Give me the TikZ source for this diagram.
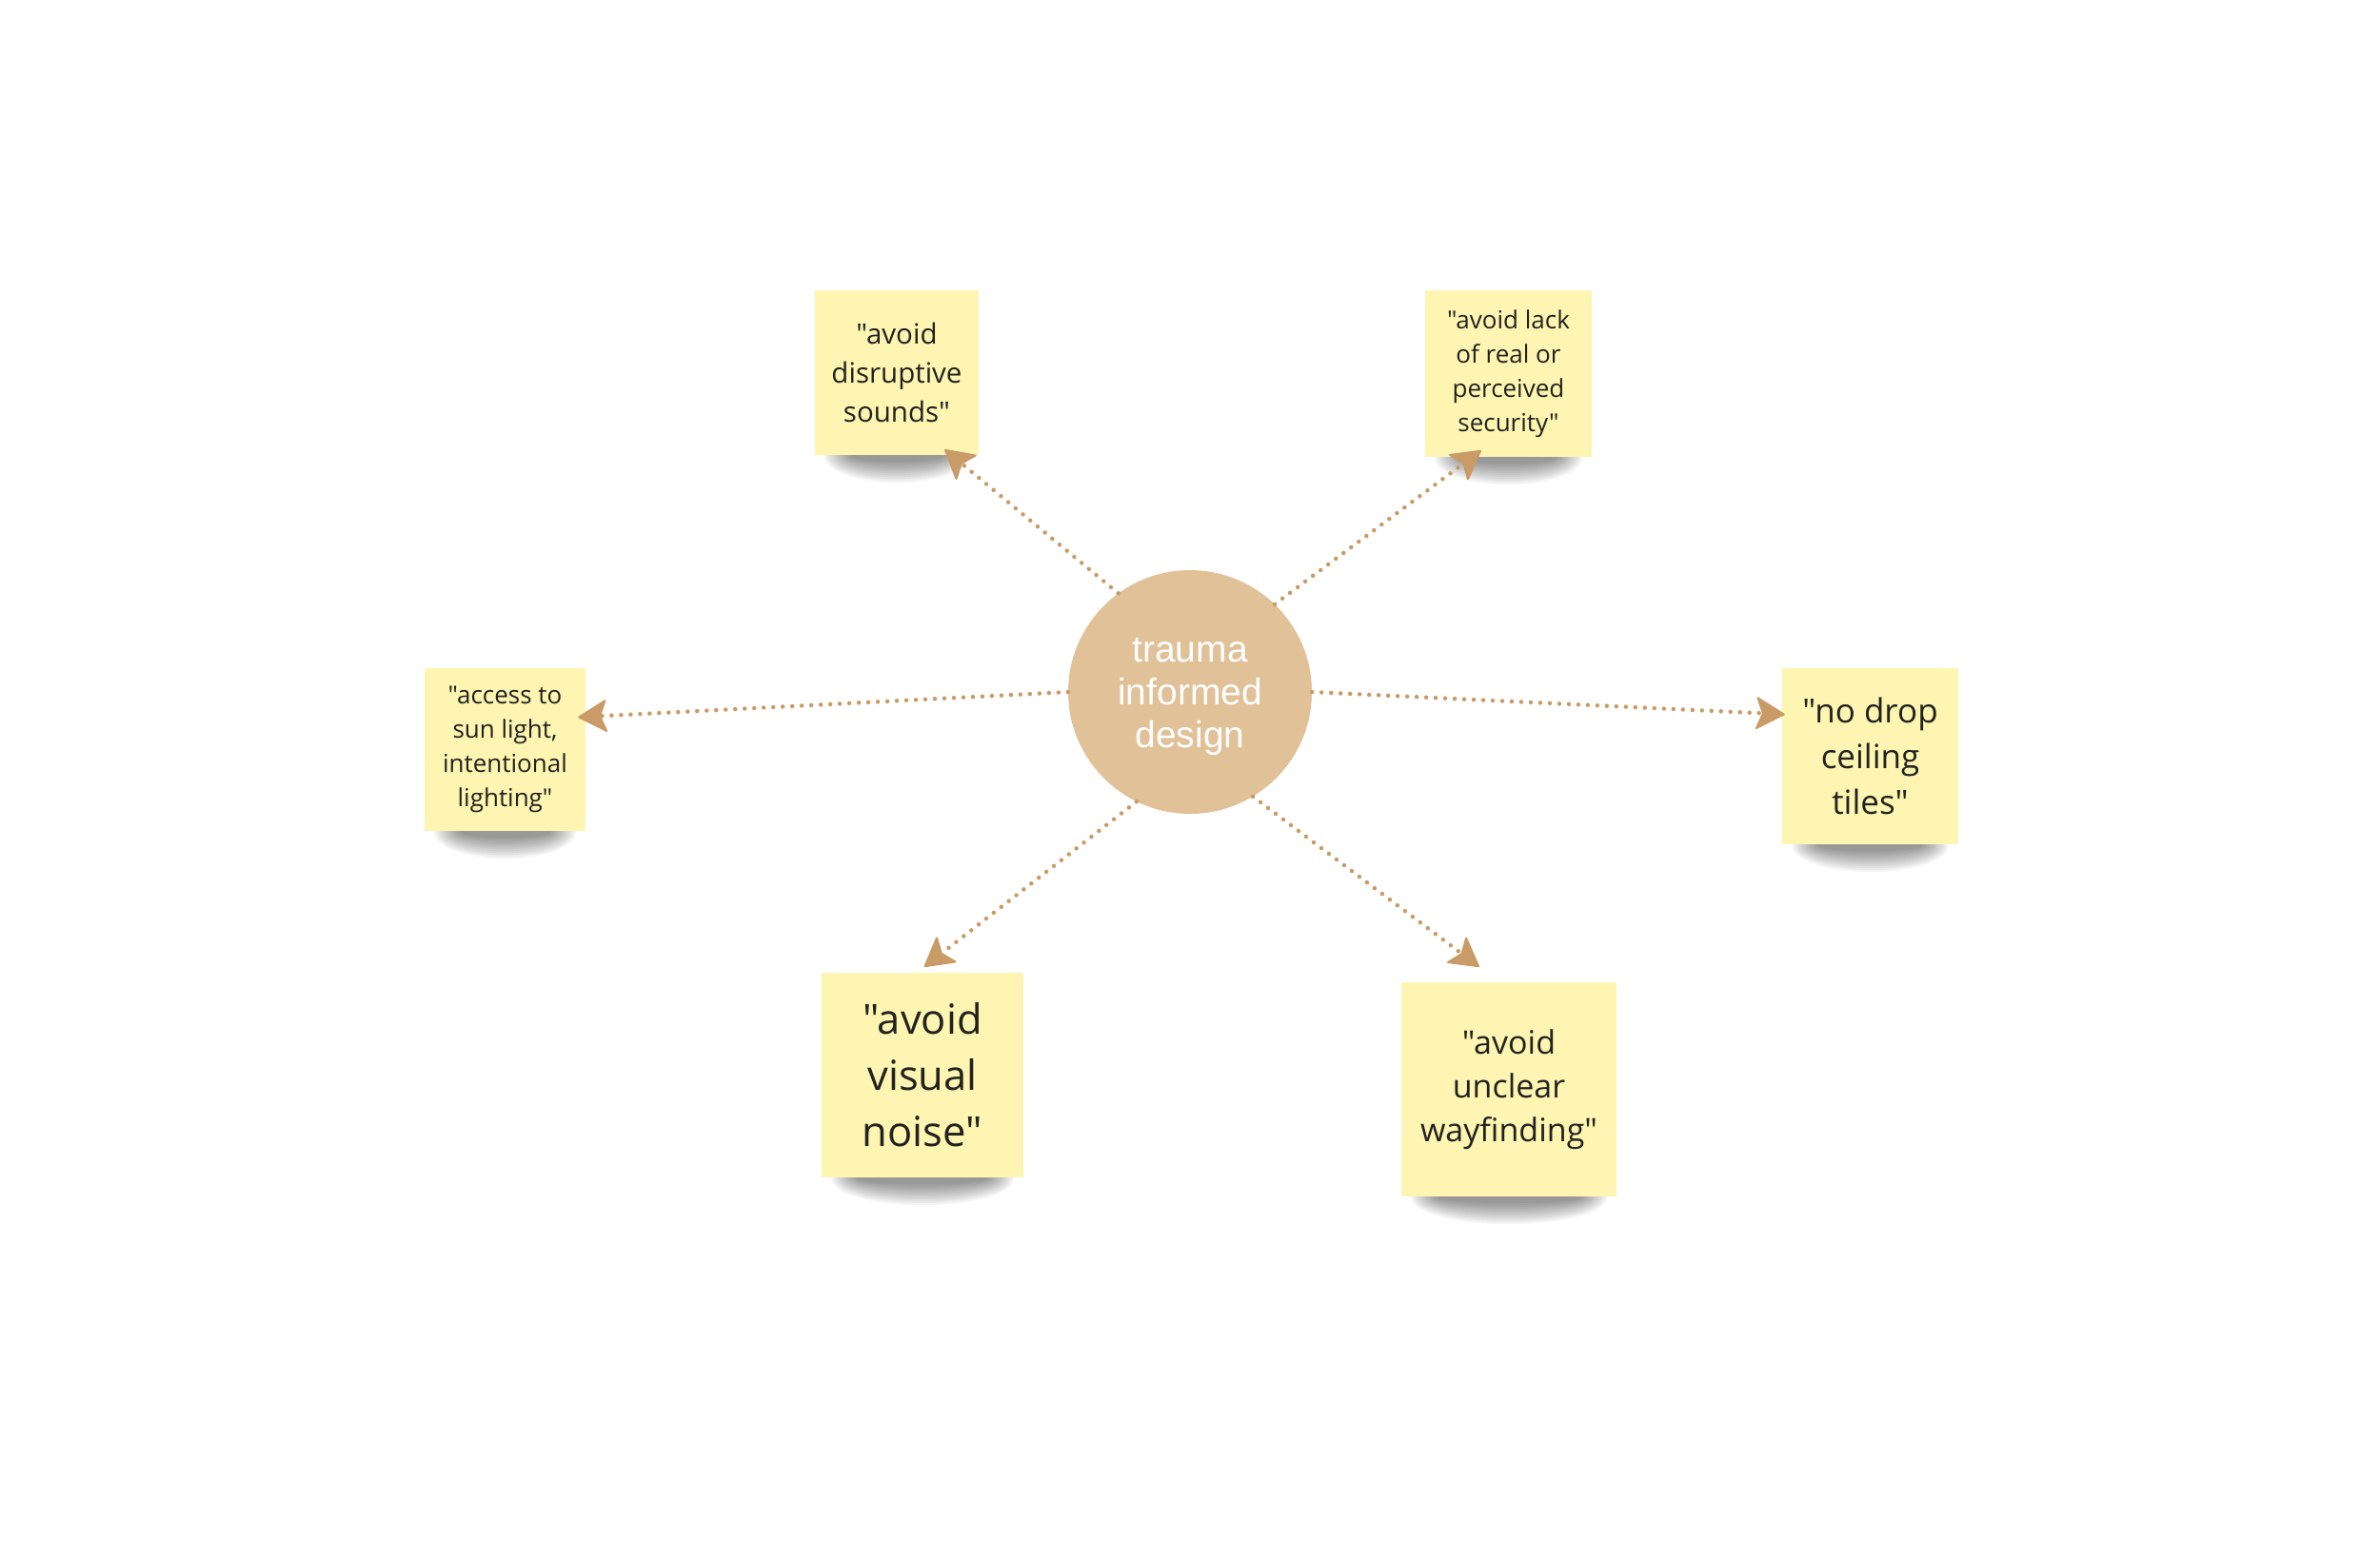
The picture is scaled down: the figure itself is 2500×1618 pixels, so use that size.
\documentclass[tikz,border=0pt]{standalone}
\usepackage{fontspec}
\setmainfont{Open Sans}[Ligatures=TeXOff]
\newfontfamily\arialf{Liberation Sans}
\usetikzlibrary{arrows.meta,calc}
\pgfdeclarelayer{background}
\pgfsetlayers{background,main}
\definecolor{notey}{RGB}{253,245,177}
\definecolor{circc}{RGB}{225,193,152}
\definecolor{arrowc}{RGB}{201,155,102}
\definecolor{notetext}{RGB}{34,34,30}
\newcommand\notshadow[2]{%
  \foreach \k in {0,...,11}{%
    \fill[black, opacity=0.04]
      ($(#1.south)+(0,1)$) ellipse [x radius={#2/2-10-2.5*\k}, y radius={28-2*\k}];
  }}
\begin{document}
\begin{tikzpicture}[x=1pt,y=-1pt,
  note/.style={fill=notey, inner sep=0pt, align=center, text=notetext},
  conn/.style={draw=arrowc, line width=4.5pt, dash pattern=on 0pt off 10pt, line cap=round,
    -{Stealth[length=32pt,width=36pt,inset=7pt,round,line width=2pt]}}]
\useasboundingbox (0,0) rectangle (2500,1618);

\node[circle, fill=circc, minimum size=256pt, inner sep=0pt] (c) at (1250,727) {};
\node[text=white, align=center, inner sep=0pt, font=\arialf\fontsize{39}{45}\selectfont]
  (ct) at ($(c.center)+(0,5)$) {trauma\\informed\\design};

\node[note, minimum width=172pt, minimum height=173pt, font=\fontsize{29.5}{41}\selectfont]
  (n1) at (942,391.5) {"avoid\\disruptive\\sounds"};
\node[note, minimum width=175pt, minimum height=175pt, font=\fontsize{26}{36}\selectfont]
  (n2) at (1584.5,392.5) {"avoid lack\\of real or\\perceived\\security"};
\node[note, minimum width=169pt, minimum height=171pt, font=\fontsize{26}{36}\selectfont]
  (n3) at (530.5,787.5) {"access to\\sun light,\\intentional\\lighting"};
\node[note, minimum width=185pt, minimum height=185pt, font=\fontsize{35}{48}\selectfont]
  (n4) at (1964.5,794.5) {"no drop\\ceiling\\tiles"};
\node[note, minimum width=212pt, minimum height=215pt, font=\fontsize{43.5}{59}\selectfont]
  (n5) at (969,1129.5) {"avoid\\visual\\noise"};
\node[note, minimum width=226pt, minimum height=225pt, font=\fontsize{34}{46}\selectfont]
  (n6) at (1585,1144.5) {"avoid\\unclear\\wayfinding"};

\begin{pgfonlayer}{background}
\fill[white] (0,0) rectangle (2500,1618);
\notshadow{n1}{172}
\notshadow{n2}{175}
\notshadow{n3}{169}
\notshadow{n4}{185}
\notshadow{n5}{212}
\notshadow{n6}{226}
\end{pgfonlayer}

\draw[conn] (c.126.6) -- ($(n1.south east)+(-36,-6)$);
\draw[conn] (c.46.6) -- ($(n2.south west)+(59,-7)$);
\draw[conn] (c.180) -- ($(n3.east)+(-8,-34)$);
\draw[conn] (c.0) -- ($(n4.west)+(3,-44)$);
\draw[conn] (c.244.2) -- ($(n5.north west)+(108,-6)$);
\draw[conn] (c.301.3) -- ($(n6.north west)+(82,-16)$);
\end{tikzpicture}
\end{document}
